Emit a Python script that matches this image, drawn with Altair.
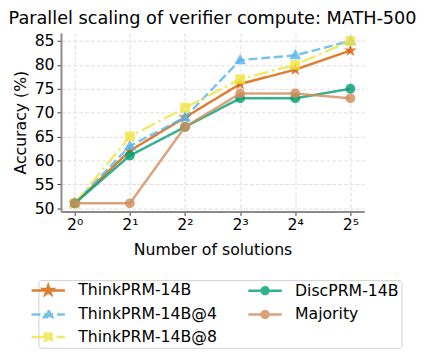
import altair as alt
import pandas as pd

# ---- data ----
N_SOLUTIONS = [1, 2, 4, 8, 16, 32]
THINKPRM_14B = [51, 62, 69, 76, 79, 83]
THINKPRM_14B_AT4 = [51, 63, 69, 81, 82, 85]
THINKPRM_14B_AT8 = [51, 65, 71, 77, 80, 85]
DISCPRM_14B = [51, 61, 67, 73, 73, 75]
MAJORITY = [51, 51, 67, 74, 74, 73]

SERIES = ["ThinkPRM-14B", "ThinkPRM-14B@4", "ThinkPRM-14B@8", "DiscPRM-14B", "Majority"]
VALUES = [THINKPRM_14B, THINKPRM_14B_AT4, THINKPRM_14B_AT8, DISCPRM_14B, MAJORITY]
Y_TICKS = [50, 55, 60, 65, 70, 75, 80, 85]
SUPERSCRIPTS = ["⁰", "¹", "²", "³", "⁴", "⁵"]

# ---- styles ----
COLORS = {
    "ThinkPRM-14B": "#D55E00",
    "ThinkPRM-14B@4": "#56B4E9",
    "ThinkPRM-14B@8": "#F0E442",
    "DiscPRM-14B": "#009E73",
    "Majority": "#D28C5A",
}
DASHES = {
    "ThinkPRM-14B": [1, 0],
    "ThinkPRM-14B@4": [9, 4],
    "ThinkPRM-14B@8": [15, 4, 2.5, 4],
    "DiscPRM-14B": [1, 0],
    "Majority": [1, 0],
}
STAR = ("M0,-1 L0.2245,-0.309 L0.951,-0.309 L0.363,0.118 L0.588,0.809 L0,0.382 "
        "L-0.588,0.809 L-0.363,0.118 L-0.951,-0.309 L-0.2245,-0.309 Z")
TRI = "M0,-1 L0.95,0.65 L-0.95,0.65 Z"
MARKERS = {
    "ThinkPRM-14B": (STAR, 190),
    "ThinkPRM-14B@4": (TRI, 160),
    "ThinkPRM-14B@8": ("square", 100),
    "DiscPRM-14B": ("circle", 100),
    "Majority": ("circle", 100),
}


def scaled(path, k):
    out = []
    for tok in path.split():
        if tok[0].isalpha():
            cmd, rest = tok[0], tok[1:]
            if rest:
                a, b = rest.split(",")
                out.append(f"{cmd}{float(a)*k:.3f},{float(b)*k:.3f}")
            else:
                out.append(cmd)
        else:
            out.append(tok)
    return " ".join(out)


# legend symbol: 100 px^2 -> 5 px per path unit; line is 34 px long
LINE = "M-3.4,0 H3.4 "
CIRC = "M-0.7,0 A0.7,0.7 0 1,0 0.7,0 A0.7,0.7 0 1,0 -0.7,0 Z"
LEGEND_SHAPES = {
    "ThinkPRM-14B": LINE + scaled(STAR, 1.0),
    "ThinkPRM-14B@4": LINE + scaled(TRI, 0.9),
    "ThinkPRM-14B@8": LINE + "M-0.7,-0.7 H0.7 V0.7 H-0.7 Z",
    "DiscPRM-14B": LINE + CIRC,
    "Majority": LINE + CIRC,
}
# Vega fills legend columns first, as matplotlib does
LEG_ORDER = SERIES

rows = []
for name, vals in zip(SERIES, VALUES):
    for n, v in zip(N_SOLUTIONS, vals):
        rows.append({"series": name, "n": n, "acc": v})
df = pd.DataFrame(rows)

FONT = "DejaVu Sans"
sup_js = "[" + ",".join(f"'{s}'" for s in SUPERSCRIPTS) + "]"

X = alt.X(
    "n:Q",
    scale=alt.Scale(type="log", base=2, domain=[2 ** -0.25, 2 ** 5.25], nice=False, zero=False),
    axis=alt.Axis(
        values=N_SOLUTIONS,
        labelExpr=f"'2' + {sup_js}[round(log(datum.value)/log(2))]",
        labelFontSize=16,
        labelPadding=1,
        titlePadding=10,
        labelFlush=False,
    ),
    title="Number of solutions",
)
Y = alt.Y(
    "acc:Q",
    scale=alt.Scale(domain=[49.3, 86.7], nice=False, zero=False),
    axis=alt.Axis(values=Y_TICKS, labelPadding=3, titlePadding=6),
    title="Accuracy (%)",
)

base = alt.Chart(df)
layers = []
for name in SERIES:
    sub = base.transform_filter(alt.datum.series == name)
    layers.append(
        sub.mark_line(color=COLORS[name], strokeWidth=2.5, opacity=0.8,
                      strokeDash=DASHES[name]).encode(x=X, y=Y)
    )
    shape, size = MARKERS[name]
    layers.append(
        sub.mark_point(filled=True, color=COLORS[name], opacity=0.8, shape=shape,
                       size=size).encode(x=X, y=Y)
    )

leg = alt.Legend(title=None)
legend_layer = base.transform_filter("false").mark_point(
    filled=True, opacity=0.8, strokeWidth=2.5, size=100
).encode(
    x=X, y=Y,
    color=alt.Color("series:N", scale=alt.Scale(domain=LEG_ORDER, range=[COLORS[s] for s in LEG_ORDER]), legend=leg),
    stroke=alt.Stroke("series:N", scale=alt.Scale(domain=LEG_ORDER, range=[COLORS[s] for s in LEG_ORDER]), legend=leg),
    shape=alt.Shape("series:N", scale=alt.Scale(domain=LEG_ORDER, range=[LEGEND_SHAPES[s] for s in LEG_ORDER]), legend=leg),
    strokeDash=alt.StrokeDash("series:N", scale=alt.Scale(domain=LEG_ORDER, range=[DASHES[s] for s in LEG_ORDER]), legend=leg),
)
layers.append(legend_layer)

chart = alt.layer(*layers).properties(
    width=309,
    height=182,
    title=alt.TitleParams(
        "Parallel scaling of verifier compute: MATH-500",
        fontSize=18, font=FONT, fontWeight="normal", anchor="middle",
        frame="group", baseline="alphabetic", offset=8, dy=17, color="black",
    ),
    autosize=alt.AutoSizeParams(type="none"),
    padding={"left": 54, "top": 22, "right": 62, "bottom": 146},
).configure_view(stroke=None).configure_axis(
    labelFont=FONT, titleFont=FONT, labelFontSize=16, titleFontSize=16,
    titleFontWeight="normal", labelColor="black", titleColor="black",
    domainColor="#8a8a8a", domainWidth=2, tickColor="#333333", tickSize=4, tickWidth=1,
    grid=True, gridColor="#dedede", gridDash=[4, 2], gridWidth=1,
).configure_legend(
    orient="none", legendX=-23, legendY=252, columns=2, padding=2,
    symbolSize=100, symbolStrokeWidth=2.5, labelOffset=22.5, labelFont=FONT,
    labelFontSize=16, labelColor="black", labelLimit=400, rowPadding=5,
    columnPadding=26, strokeColor="#d0d0d0", cornerRadius=3, fillColor="white",
)

chart.save("out.html", embed_options={"renderer": "svg", "actions": False})
